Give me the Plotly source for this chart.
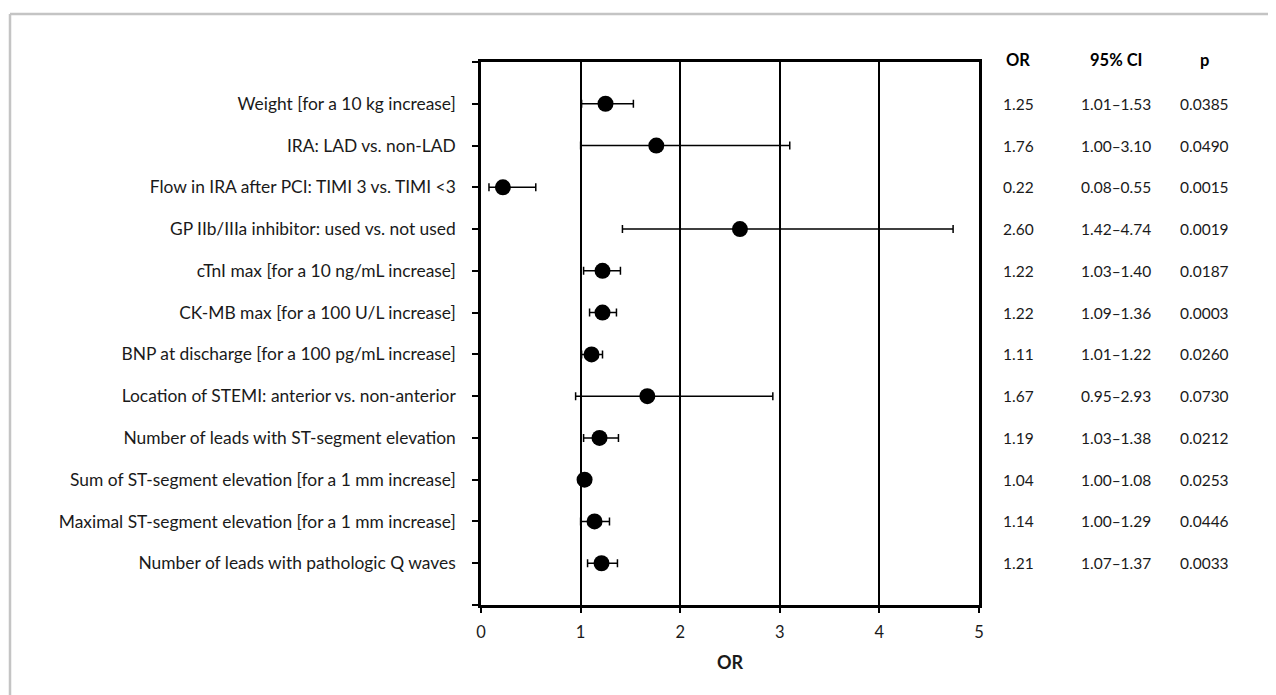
import plotly.graph_objects as go

categories = [
    "Weight [for a 10 kg increase]",
    "IRA: LAD vs. non-LAD",
    "Flow in IRA after PCI: TIMI 3 vs. TIMI <3",
    "GP IIb/IIIa inhibitor: used vs. not used",
    "cTnI max [for a 10 ng/mL increase]",
    "CK-MB max [for a 100 U/L increase]",
    "BNP at discharge [for a 100 pg/mL increase]",
    "Location of STEMI: anterior vs. non-anterior",
    "Number of leads with ST-segment elevation",
    "Sum of ST-segment elevation [for a 1 mm increase]",
    "Maximal ST-segment elevation [for a 1 mm increase]",
    "Number of leads with pathologic Q waves",
]
odds_ratio = [1.25, 1.76, 0.22, 2.60, 1.22, 1.22, 1.11, 1.67, 1.19, 1.04, 1.14, 1.21]
ci_low = [1.01, 1.00, 0.08, 1.42, 1.03, 1.09, 1.01, 0.95, 1.03, 1.00, 1.00, 1.07]
ci_high = [1.53, 3.10, 0.55, 4.74, 1.40, 1.36, 1.22, 2.93, 1.38, 1.08, 1.29, 1.37]
p_values = ["0.0385", "0.0490", "0.0015", "0.0019", "0.0187", "0.0003",
            "0.0260", "0.0730", "0.0212", "0.0253", "0.0446", "0.0033"]
or_text = ["1.25", "1.76", "0.22", "2.60", "1.22", "1.22", "1.11", "1.67", "1.19", "1.04", "1.14", "1.21"]
ci_text = ["1.01–1.53", "1.00–3.10", "0.08–0.55", "1.42–4.74", "1.03–1.40", "1.09–1.36",
           "1.01–1.22", "0.95–2.93", "1.03–1.38", "1.00–1.08", "1.00–1.29", "1.07–1.37"]
x_ticks = [0, 1, 2, 3, 4, 5]
col_headers = ["OR", "95% CI", "p"]

FONT = "Lato, Open Sans, sans-serif"
OFF = 8  # page body margin
W, H = 1276 - OFF, 695 - OFF
# target pixel positions in the screenshot
PL, PR, PT, PB = 481, 979, 62, 605
L, R, T, B = PL - OFF, W - (PR - OFF), PT - OFF, H - (PB - OFF)

ypos = list(range(1, len(categories) + 1))

fig = go.Figure()
fig.add_trace(go.Scatter(
    x=odds_ratio, y=ypos, mode="markers",
    marker=dict(size=16, color="black"),
    error_x=dict(type="data", symmetric=False,
                 array=[h - o for h, o in zip(ci_high, odds_ratio)],
                 arrayminus=[o - l for o, l in zip(odds_ratio, ci_low)],
                 color="black", thickness=1.5, width=4),
    showlegend=False, hoverinfo="skip",
))

fig.update_layout(
    width=W, height=H,
    margin=dict(l=L, r=R, t=T, b=B),
    plot_bgcolor="white", paper_bgcolor="white",
    font=dict(family=FONT, size=16, color="#1a1a1a"),
    xaxis=dict(range=[0, 5], tickvals=x_ticks, ticks="outside", ticklen=5, tickwidth=1.5,
               tickcolor="black", showgrid=True, gridcolor="black", gridwidth=1.5,
               showline=True, linecolor="black", linewidth=2.5, mirror=True,
               zeroline=False, ticklabelstandoff=5, tickfont=dict(size=16.5, family=FONT),
               title=dict(text="<b>OR</b>", font=dict(size=18, family=FONT), standoff=16)),
    yaxis=dict(range=[13, 0], tickvals=[0] + ypos + [13],
               ticktext=[""] + categories + [""],
               ticks="outside", ticklen=6, tickwidth=1.5, tickcolor="black",
               ticklabelstandoff=13,
               showgrid=False, zeroline=False, showline=True, linecolor="black",
               linewidth=2.5, mirror=True, tickfont=dict(size=17.4, family=FONT)),
)

col_x = [1018, 1116, 1204]
def px2paper_x(px):
    return (px - PL) / (PR - PL)
def px2paper_y(py):
    return (PB - py) / (PB - PT)

for cx, head in zip(col_x, col_headers):
    fig.add_annotation(x=px2paper_x(cx), xref="paper", y=px2paper_y(60), yref="paper",
                       xanchor="center", yanchor="middle",
                       text="<b>%s</b>" % head, showarrow=False,
                       font=dict(size=16.5, family=FONT, color="black"))
for i, y in enumerate(ypos):
    for cx, col in zip(col_x, [or_text, ci_text, p_values]):
        fig.add_annotation(x=px2paper_x(cx), xref="paper", y=y, yref="y",
                           xanchor="center", yanchor="middle",
                           text=col[i], showarrow=False,
                           font=dict(size=15.5, family=FONT, color="#1a1a1a"))

# outer frame (light gray), extending past the window
fig.add_shape(type="line", xref="paper", yref="paper",
              x0=px2paper_x(10), x1=px2paper_x(1300), y0=px2paper_y(14), y1=px2paper_y(14),
              line=dict(color="#c4c4c4", width=2.5))
fig.add_shape(type="line", xref="paper", yref="paper",
              x0=px2paper_x(10), x1=px2paper_x(10), y0=px2paper_y(14), y1=px2paper_y(720),
              line=dict(color="#c4c4c4", width=2.5))

fig.write_html("out.html")
